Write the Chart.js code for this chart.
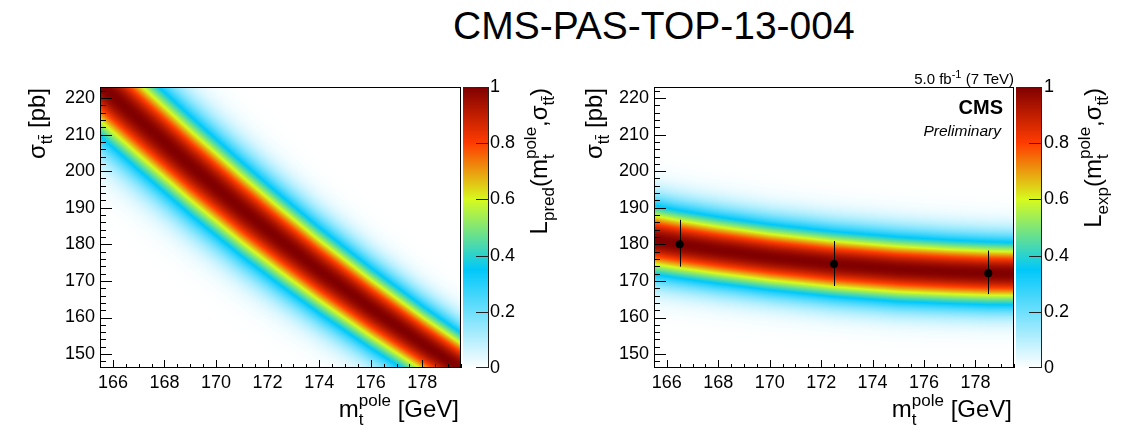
<!DOCTYPE html>
<html><head><meta charset="utf-8">
<script src="https://cdn.jsdelivr.net/npm/chart.js@4.4.1/dist/chart.umd.min.js"></script>
<style>
html,body{margin:0;padding:0;background:#fff;}
body{width:1126px;height:433px;position:relative;overflow:hidden;}
canvas{position:absolute;top:0;}
#title{position:absolute;left:453px;top:6px;font:39px/39px "Liberation Sans",Arial,sans-serif;color:#000;white-space:nowrap;}
</style></head><body>
<div id="title">CMS-PAS-TOP-13-004</div>
<canvas id="leftc" width="563" height="433" style="left:0"></canvas>
<canvas id="rightc" width="563" height="433" style="left:563px"></canvas>
<script>
// ---------------- data ----------------
const massTicks = [166, 168, 170, 172, 174, 176, 178];
const xsecTicks = [150, 160, 170, 180, 190, 200, 210, 220];
const likeTicks = [0, 0.2, 0.4, 0.6, 0.8, 1];
// predicted band (left): centre and 1-sigma half width vs top mass
const predMass   = [165.5, 167, 169, 171, 172.5, 174, 176, 178, 179.5];
const predCenter = [223.8, 214.2, 201.6, 189.6, 181.1, 172.9, 162.6, 152.9, 146.0];
const predWidth  = [9.8, 9.6, 9.3, 8.9, 8.5, 8.1, 7.6, 7.1, 6.8];
// experimental band (right)
const expBandMass   = [165.5, 166.5, 168, 170, 172.5, 175, 177, 178.5, 179.5];
const expBandCenter = [181.2, 180.0, 178.4, 176.5, 174.6, 173.2, 172.5, 172.1, 172.0];
const expBandWidth  = [6.5, 6.4, 6.3, 6.2, 6.15, 6.1, 6.0, 5.95, 5.9];
// measured points
const expMass    = [166.5, 172.5, 178.5];
const expXsec    = [180.0, 174.6, 172.1];
const expErrUp   = [6.7, 6.3, 6.2];
const expErrDown = [6.1, 6.0, 5.7];

// ---------------- styling ----------------
const FONT = '"Liberation Sans", Arial, sans-serif';
const PAL_STOPS = [0, 0.35, 0.6, 0.8, 1];
const PAL_RGB = [[255,255,255],[0,200,250],[215,250,30],[255,60,0],[128,0,0]];

function palette(v){
  v = Math.max(0, Math.min(1, v));
  for (let k = 1; k < PAL_STOPS.length; k++){
    if (v <= PAL_STOPS[k]){
      const f = (v - PAL_STOPS[k-1]) / (PAL_STOPS[k] - PAL_STOPS[k-1]);
      const a = PAL_RGB[k-1], b = PAL_RGB[k];
      return [a[0]+(b[0]-a[0])*f, a[1]+(b[1]-a[1])*f, a[2]+(b[2]-a[2])*f];
    }
  }
  return PAL_RGB[PAL_RGB.length-1];
}
function interp(xs, ys, x){
  let k = 1;
  while (k < xs.length - 1 && x > xs[k]) k++;
  const f = (x - xs[k-1]) / (xs[k] - xs[k-1]);
  return ys[k-1] + (ys[k] - ys[k-1]) * f;
}
function richText(ctx, parts, x, y, rot, align){
  ctx.save();
  ctx.translate(x, y);
  if (rot) ctx.rotate(rot);
  let cx = 0, prevStart = 0, maxEnd = 0;
  const items = [];
  for (const p of parts){
    ctx.font = (p.st || '') + ' ' + p.s + 'px ' + FONT;
    const w = ctx.measureText(p.t).width;
    const sx = p.back ? prevStart : cx;
    items.push({p, sx});
    if (!p.back) prevStart = sx;
    maxEnd = Math.max(maxEnd, sx + w);
    cx = maxEnd;
  }
  const off = align === 'right' ? -cx : 0;
  ctx.fillStyle = '#000';
  ctx.textBaseline = 'alphabetic';
  ctx.textAlign = 'left';
  for (const it of items){
    ctx.font = (it.p.st || '') + ' ' + it.p.s + 'px ' + FONT;
    ctx.fillText(it.p.t, it.sx + off, it.p.dy || 0);
  }
  ctx.restore();
}

function makePlugin(cfg){
  return {
    id: 'panel',
    beforeDatasetsDraw(chart){
      const ctx = chart.ctx, a = chart.chartArea, xs = chart.scales.x, ys = chart.scales.y;
      const L = Math.round(a.left), T = Math.round(a.top);
      const W = Math.round(a.right) - L, H = Math.round(a.bottom) - T;
      const off = document.createElement('canvas');
      off.width = W; off.height = H;
      const octx = off.getContext('2d');
      const img = octx.createImageData(W, H);
      for (let i = 0; i < W; i++){
        const m = xs.getValueForPixel(L + i + 0.5);
        const c = interp(cfg.bandMass, cfg.bandCenter, m);
        const s = interp(cfg.bandMass, cfg.bandWidth, m);
        for (let j = 0; j < H; j++){
          const v = ys.getValueForPixel(T + j + 0.5);
          const d = (v - c) / s;
          const col = palette(Math.exp(-0.5 * d * d));
          const idx = (j * W + i) * 4;
          img.data[idx] = col[0]; img.data[idx+1] = col[1]; img.data[idx+2] = col[2]; img.data[idx+3] = 255;
        }
      }
      octx.putImageData(img, 0, 0);
      ctx.drawImage(off, L, T);
      // error bars
      if (cfg.points){
        ctx.save();
        ctx.strokeStyle = '#000'; ctx.lineWidth = 1;
        cfg.points.x.forEach((m, i) => {
          const px = Math.round(xs.getPixelForValue(m)) + 0.5;
          const y1 = ys.getPixelForValue(cfg.points.y[i] + cfg.points.up[i]);
          const y2 = ys.getPixelForValue(cfg.points.y[i] - cfg.points.down[i]);
          ctx.beginPath(); ctx.moveTo(px, y1); ctx.lineTo(px, y2); ctx.stroke();
        });
        ctx.restore();
      }
    },
    afterDatasetsDraw(chart){
      const ctx = chart.ctx, a = chart.chartArea, xs = chart.scales.x, ys = chart.scales.y, zs = chart.scales.z;
      const L = Math.round(a.left), T = Math.round(a.top), R = Math.round(a.right), B = Math.round(a.bottom);
      ctx.save();
      ctx.strokeStyle = '#000'; ctx.lineWidth = 1;
      ctx.strokeRect(L + 0.5, T + 0.5, R - L - 1, B - T - 1);
      ctx.beginPath();
      // x ticks
      for (let v = Math.ceil(xs.min * 2) / 2; v <= xs.max + 1e-9; v += 0.5){
        const px = Math.round(xs.getPixelForValue(v)) + 0.5;
        const len = massTicks.includes(v) ? 8 : 4;
        ctx.moveTo(px, B); ctx.lineTo(px, B - len);
      }
      // y ticks
      for (let v = Math.ceil(ys.min / 2) * 2; v <= ys.max + 1e-9; v += 2){
        const py = Math.round(ys.getPixelForValue(v)) + 0.5;
        const len = xsecTicks.includes(v) ? 12 : 6;
        ctx.moveTo(L, py); ctx.lineTo(L + len, py);
      }
      ctx.stroke();
      // colour bar
      const bx = R + 2, bw = 25;
      const zt = Math.round(zs.top), zb = Math.round(zs.bottom);
      for (let py = zt; py < zb; py++){
        const col = palette(zs.getValueForPixel(py + 0.5));
        ctx.fillStyle = 'rgb(' + col.map(Math.round).join(',') + ')';
        ctx.fillRect(bx, py, bw, 1);
      }
      ctx.strokeStyle = '#222';
      ctx.beginPath();
      ctx.moveTo(bx + bw + 0.5, zt); ctx.lineTo(bx + bw + 0.5, zb);
      likeTicks.forEach(v => {
        const py = Math.round(zs.getPixelForValue(v)) + (v === 0 ? -0.5 : 0.5);
        ctx.moveTo(bx + bw + 0.5, py); ctx.lineTo(bx + bw - 12, py);
      });
      ctx.stroke();
      ctx.restore();
      // titles
      richText(ctx, [{t:'m',s:24},{t:'t',s:17,dy:8},{t:'pole',s:17,dy:-11,back:true},{t:' [GeV]',s:24}],
               R - 2, 417, 0, 'right');
      richText(ctx, [{t:'\u03c3',s:24},{t:'tt\u0304',s:17,dy:7},{t:' [pb]',s:24}],
               cfg.yTitleX, T + 1, -Math.PI/2, 'right');
      richText(ctx, [{t:'L',s:24},{t:cfg.zSub,s:17,dy:7},{t:'(m',s:24},{t:'t',s:17,dy:7},
                     {t:'pole',s:17,dy:-11,back:true},{t:',\u03c3',s:24},{t:'tt\u0304',s:17,dy:7},{t:')',s:24}],
               cfg.zTitleX, T + 1, -Math.PI/2, 'right');
      if (cfg.cms){
        richText(ctx, [{t:'5.0 fb',s:15},{t:'-1',s:11,dy:-6},{t:' (7 TeV)',s:15}], R, 84, 0, 'right');
        richText(ctx, [{t:'CMS',s:20,st:'bold'}], R - 11, 114, 0, 'right');
        richText(ctx, [{t:'Preliminary',s:15.5,st:'italic'}], R - 13, 136, 0, 'right');
      }
    }
  };
}

function makeChart(id, cfg){
  const datasets = [];
  if (cfg.points){
    datasets.push({
      type: 'scatter',
      data: cfg.points.x.map((m, i) => ({x: m, y: cfg.points.y[i]})),
      pointRadius: 4, pointHoverRadius: 4,
      backgroundColor: '#000', borderColor: '#000', borderWidth: 0
    });
  } else {
    datasets.push({type: 'scatter', data: []});
  }
  const tickFont = {family: FONT, size: 18};
  return new Chart(document.getElementById(id), {
    type: 'scatter',
    data: {datasets},
    options: {
      responsive: false, animation: false, devicePixelRatio: 1,
      layout: {autoPadding: false, padding: {left: 0, right: 0, top: 87, bottom: 0}},
      plugins: {legend: {display: false}, tooltip: {enabled: false}, title: {display: false}},
      scales: {
        x: {
          type: 'linear', position: 'bottom', min: 165.5, max: 179.5,
          grid: {display: false, drawTicks: false}, border: {display: false},
          afterBuildTicks: s => { s.ticks = massTicks.map(v => ({value: v})); },
          afterFit: s => { s.height = 433 - 368; },
          ticks: {font: tickFont, color: '#000', padding: 4, autoSkip: false, maxRotation: 0}
        },
        y: {
          type: 'linear', position: 'left', min: 146.2, max: 223,
          grid: {display: false, drawTicks: false}, border: {display: false},
          afterBuildTicks: s => { s.ticks = xsecTicks.map(v => ({value: v})); },
          afterFit: s => { s.width = cfg.leftW; },
          ticks: {font: tickFont, color: '#000', padding: 5, autoSkip: false}
        },
        z: {
          type: 'linear', axis: 'y', position: 'right', min: 0, max: 1,
          grid: {display: false, drawTicks: false}, border: {display: false},
          afterBuildTicks: s => { s.ticks = likeTicks.map(v => ({value: v})); },
          afterFit: s => { s.width = cfg.rightW; },
          ticks: {font: tickFont, color: '#000', padding: cfg.zPad, autoSkip: false,
                  callback: v => String(v)}
        }
      }
    },
    plugins: [makePlugin(cfg)]
  });
}

makeChart('leftc', {
  leftW: 100, rightW: 563 - 461, zPad: 29,
  bandMass: predMass, bandCenter: predCenter, bandWidth: predWidth,
  yTitleX: 44.5, zTitleX: 547, zSub: 'pred'
});
makeChart('rightc', {
  leftW: 91, rightW: 563 - 451, zPad: 30,
  bandMass: expBandMass, bandCenter: expBandCenter, bandWidth: expBandWidth,
  points: {x: expMass, y: expXsec, up: expErrUp, down: expErrDown},
  yTitleX: 38.5, zTitleX: 1101 - 563, zSub: 'exp', cms: true
});
</script>
</body></html>
